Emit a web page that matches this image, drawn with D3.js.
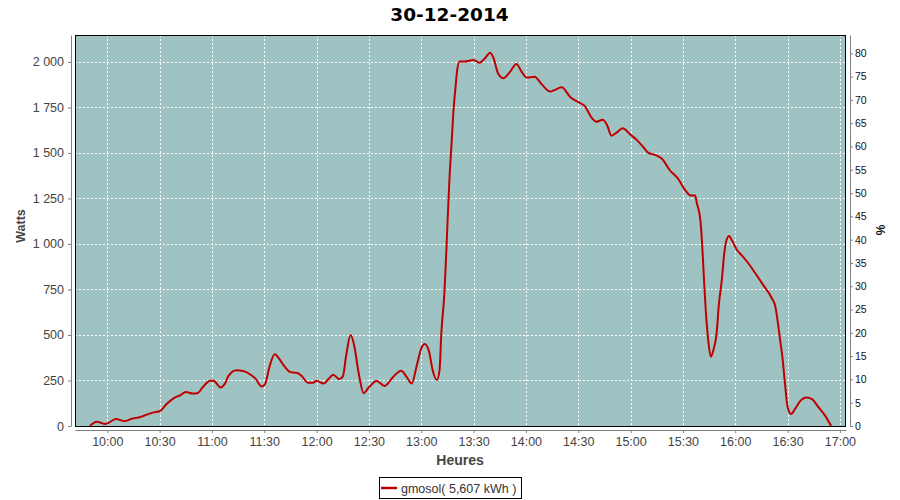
<!DOCTYPE html>
<html>
<head>
<meta charset="utf-8">
<script src="https://cdn.jsdelivr.net/npm/d3@7"></script>
<style>
  html, body { margin: 0; padding: 0; background: #fff; }
  svg { display: block; }
</style>
</head>
<body>
<svg id="chart" width="900" height="500"></svg>
<script>
// ---- data ----
const title = "30-12-2014";
const seriesName = "gmosol( 5,607 kWh )";
const times = [
  "09:50:00","09:54:00","09:59:00","10:05:00","10:10:00","10:14:00","10:19:00","10:23:00","10:26:30","10:30:00",
  "10:34:00","10:38:00","10:42:00","10:45:00","10:49:00","10:51:30","10:55:00","10:59:00","11:01:00","11:05:00",
  "11:07:30","11:09:30","11:14:00","11:18:00","11:22:00","11:25:00","11:28:30","11:30:30","11:33:00","11:36:00",
  "11:39:00","11:41:00","11:45:00","11:48:30","11:51:30","11:55:00","11:58:00","12:00:00","12:04:00","12:07:00",
  "12:09:30","12:13:00","12:15:00","12:17:00","12:19:30","12:21:30","12:24:00","12:27:00","12:29:30","12:34:30",
  "12:39:00","12:44:00","12:48:30","12:51:30","12:54:30","12:57:30","13:00:00","13:02:00","13:04:30","13:06:30",
  "13:09:00","13:10:30","13:11:30","13:13:00","13:16:30","13:17:30","13:18:30","13:19:30","13:20:30","13:22:00",
  "13:25:00","13:30:00","13:33:30","13:36:30","13:39:30","13:41:30","13:44:00","13:47:00","13:51:00","13:54:30",
  "13:57:30","14:00:30","14:05:00","14:09:00","14:14:00","14:16:30","14:20:30","14:25:30","14:30:00","14:34:00",
  "14:37:30","14:40:30","14:44:00","14:46:30","14:49:00","14:52:00","14:55:30","15:00:00","15:03:30","15:07:30",
  "15:10:00","15:14:00","15:18:00","15:22:30","15:27:30","15:31:00","15:34:30","15:37:00","15:38:00","15:40:00",
  "15:41:00","15:42:00","15:43:30","15:44:30","15:46:00","15:47:30","15:49:30","15:50:30","15:52:30","15:53:30",
  "15:55:00","15:56:30","15:58:00","16:01:00","16:03:30","16:07:30","16:11:30","16:16:00","16:21:00","16:23:00",
  "16:24:30","16:26:00","16:27:00","16:28:30","16:30:00","16:32:00","16:34:30","16:37:00","16:41:00","16:44:00",
  "16:47:30","16:51:30","16:55:00"
];
const watts = [
  0,24,11,38,27,40,49,64,75,81,
  121,152,170,187,178,180,216,249,248,212,
  234,275,306,302,283,260,217,231,326,394,
  363,335,296,292,275,238,238,249,233,260,
  282,258,271,390,500,445,298,180,207,247,
  220,271,304,271,233,335,427,451,408,308,
  253,308,509,692,1416,1572,1736,1846,1947,2002,
  2002,2011,1996,2020,2051,2020,1938,1911,1947,1989,
  1947,1914,1919,1878,1837,1846,1861,1806,1779,1755,
  1696,1672,1682,1654,1595,1612,1636,1600,1572,1530,
  1502,1489,1468,1405,1355,1300,1266,1266,1224,1132,
  1004,820,582,473,381,418,527,656,820,930,
  1022,1044,1022,967,940,894,839,775,702,656,
  564,454,381,235,106,66,97,134,156,148,
  106,57,0
];
const xTickLabels = ["10:00","10:30","11:00","11:30","12:00","12:30","13:00","13:30","14:00","14:30","15:00","15:30","16:00","16:30","17:00"];
const leftTicks = [0,250,500,750,1000,1250,1500,1750,2000];
const rightTicks = [0,5,10,15,20,25,30,35,40,45,50,55,60,65,70,75,80];
const xDomain = ["09:41:30","17:03:30"];
const leftMax = 2148;
const rightMax = 83.93;

// ---- layout ----
const plot = { left: 75, top: 35, right: 846, bottom: 426 };
const parse = d3.timeParse("%H:%M:%S");
const parseHM = d3.timeParse("%H:%M");
const data = times.map((t, i) => ({ t: parse(t), v: watts[i] }));

const svg = d3.select("#chart");
const font = "'Liberation Sans', Arial, sans-serif";

const x = d3.scaleTime().domain(xDomain.map(parse)).range([plot.left, plot.right]);
const y = d3.scaleLinear().domain([0, leftMax]).range([plot.bottom, plot.top]);
const yR = d3.scaleLinear().domain([0, rightMax]).range([plot.bottom, plot.top]);

const fr = d3.formatLocale({ decimal: ",", thousands: " ", grouping: [3], currency: ["", " €"] });
const fmt = fr.format(",d");

// title
svg.append("text")
  .attr("x", 449.5).attr("y", 20.5)
  .attr("text-anchor", "middle")
  .attr("font-family", "'DejaVu Sans', sans-serif")
  .attr("font-weight", "bold")
  .attr("font-size", 18.5)
  .attr("fill", "#000")
  .text(title);

// plot background
svg.append("rect")
  .attr("x", plot.left).attr("y", plot.top)
  .attr("width", plot.right - plot.left).attr("height", plot.bottom - plot.top)
  .attr("fill", "#9ec3c2");

// grid
const xTicks = xTickLabels.map(parseHM);
const grid = svg.append("g")
  .attr("stroke", "#fff").attr("stroke-width", 1).attr("stroke-dasharray", "2,2")
  .attr("shape-rendering", "crispEdges");
grid.selectAll("line.v").data(xTicks).enter().append("line")
  .attr("x1", d => Math.round(x(d)) + 0.5).attr("x2", d => Math.round(x(d)) + 0.5)
  .attr("y1", plot.top).attr("y2", plot.bottom);
grid.selectAll("line.h").data(leftTicks).enter().append("line")
  .attr("y1", d => Math.round(y(d)) + 0.5).attr("y2", d => Math.round(y(d)) + 0.5)
  .attr("x1", plot.left).attr("x2", plot.right);

// series line
const line = d3.line().x(d => x(d.t)).y(d => y(d.v)).curve(d3.curveMonotoneX);
svg.append("path")
  .datum(data)
  .attr("fill", "none")
  .attr("stroke", "#c00000")
  .attr("stroke-width", 2)
  .attr("stroke-linejoin", "round")
  .attr("d", line);

// plot outline
svg.append("rect")
  .attr("x", plot.left + 0.5).attr("y", plot.top + 0.5)
  .attr("width", plot.right - plot.left - 1).attr("height", plot.bottom - plot.top)
  .attr("fill", "none").attr("stroke", "#000").attr("stroke-width", 1);

// axes
function styleAxis(g, color, size) {
  g.select(".domain").attr("stroke", "#808080");
  g.selectAll(".tick line").attr("stroke", "#808080");
  g.selectAll(".tick text").attr("font-family", font).attr("font-size", size).attr("fill", color);
  g.attr("font-family", font);
}

const xAxis = svg.append("g")
  .attr("transform", `translate(0,${plot.bottom + 4})`)
  .call(d3.axisBottom(x).tickValues(xTicks).tickFormat(d3.timeFormat("%H:%M")).tickSize(3).tickSizeOuter(0).tickPadding(4));
styleAxis(xAxis, "#444", 12.5);

const yAxis = svg.append("g")
  .attr("transform", `translate(${plot.left - 4},0)`)
  .call(d3.axisLeft(y).tickValues(leftTicks).tickFormat(fmt).tickSize(3).tickSizeOuter(0).tickPadding(4));
styleAxis(yAxis, "#444", 12.5);

const yRAxis = svg.append("g")
  .attr("transform", `translate(${plot.right + 4},0)`)
  .call(d3.axisRight(yR).tickValues(rightTicks).tickFormat(d3.format("d")).tickSize(3).tickSizeOuter(0).tickPadding(2));
styleAxis(yRAxis, "#111", 10.5);

// axis labels
svg.append("text")
  .attr("transform", "translate(25,226) rotate(-90)")
  .attr("text-anchor", "middle")
  .attr("font-family", font).attr("font-weight", "bold").attr("font-size", 12.5)
  .attr("fill", "#444")
  .text("Watts");

svg.append("text")
  .attr("x", 460).attr("y", 465)
  .attr("text-anchor", "middle")
  .attr("font-family", font).attr("font-weight", "bold").attr("font-size", 14)
  .attr("fill", "#444")
  .text("Heures");

svg.append("text")
  .attr("transform", "translate(885,230) rotate(-90)")
  .attr("text-anchor", "middle")
  .attr("font-family", font).attr("font-weight", "bold").attr("font-size", 12)
  .attr("fill", "#111")
  .text("%");

// legend
const lg = svg.append("g");
lg.append("rect")
  .attr("x", 379.5).attr("y", 477.5).attr("width", 142).attr("height", 21)
  .attr("fill", "#fff").attr("stroke", "#000").attr("stroke-width", 1);
lg.append("line")
  .attr("x1", 381).attr("x2", 397).attr("y1", 488).attr("y2", 488)
  .attr("stroke", "#c00000").attr("stroke-width", 2.5);
lg.append("text")
  .attr("x", 401).attr("y", 492.5)
  .attr("font-family", font).attr("font-size", 12.5).attr("fill", "#333")
  .text(seriesName);
</script>
</body>
</html>
